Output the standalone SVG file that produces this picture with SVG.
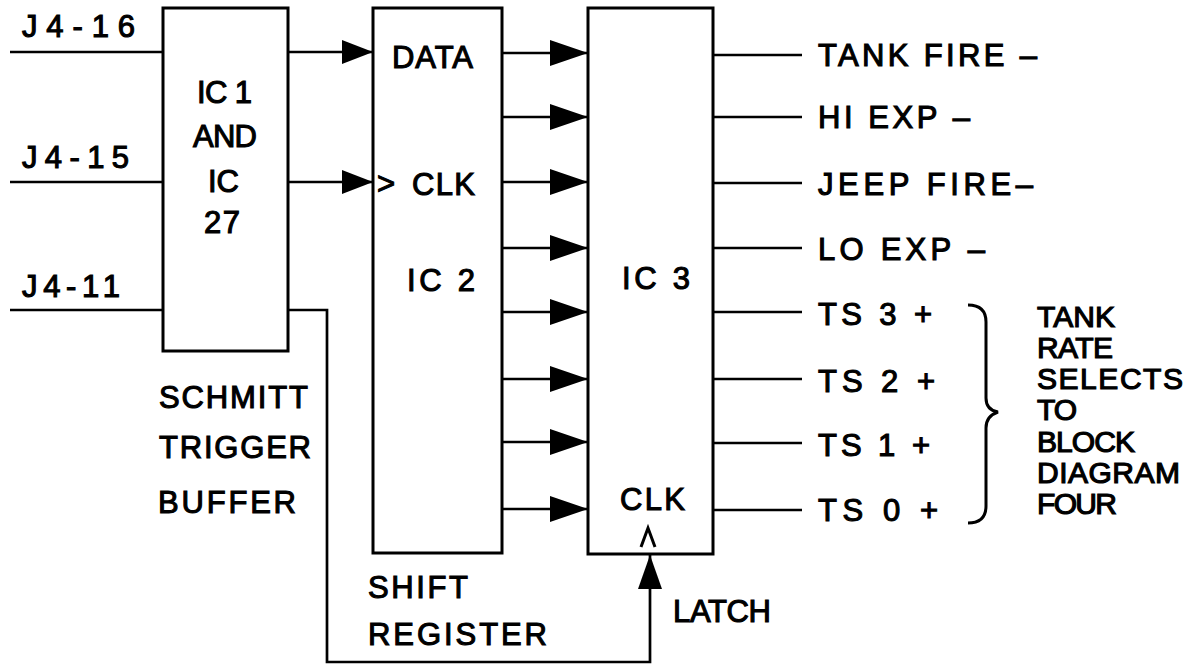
<svg xmlns="http://www.w3.org/2000/svg" width="1199" height="666" viewBox="0 0 1199 666">
<style>
.t{font-family:"Liberation Sans",Arial,sans-serif;font-size:31px;fill:#000;stroke:#000;stroke-width:1.1}
.r{font-family:"Liberation Sans",Arial,sans-serif;font-size:30px;fill:#000;stroke:#000;stroke-width:1.2}
.box{fill:none;stroke:#000;stroke-width:3}
.w{fill:none;stroke:#000;stroke-width:2.7}
</style>
<defs>
<marker id="arr" markerUnits="userSpaceOnUse" markerWidth="38" markerHeight="26" viewBox="0 0 38 26" refX="38" refY="13" orient="auto">
<path d="M0,0 L38,13 L0,26 Z" fill="#000"/>
</marker>
<marker id="arr2" markerUnits="userSpaceOnUse" markerWidth="31" markerHeight="24" viewBox="0 0 31 24" refX="31" refY="12" orient="auto">
<path d="M0,0 L31,12 L0,24 Z" fill="#000"/>
</marker>
<marker id="arr3" markerUnits="userSpaceOnUse" markerWidth="34" markerHeight="24" viewBox="0 0 34 24" refX="34" refY="12" orient="auto">
<path d="M0,0 L34,12 L0,24 Z" fill="#000"/>
</marker>
</defs>
<rect width="1199" height="666" fill="#fff"/>

<g id="inputs">
<text class="t" x="22" y="37" textLength="113" lengthAdjust="spacing">J4-16</text>
<text class="t" x="22" y="168" textLength="107" lengthAdjust="spacing">J4-15</text>
<text class="t" x="22" y="297" textLength="98" lengthAdjust="spacing">J4-11</text>
</g>

<g id="ic1">
<rect class="box" x="163" y="8" width="125" height="343"/>
<text class="t" x="197" y="103" textLength="55" lengthAdjust="spacing">IC 1</text>
<text class="t" x="193" y="147" textLength="64" lengthAdjust="spacing">AND</text>
<text class="t" x="208" y="192" textLength="31" lengthAdjust="spacing">IC</text>
<text class="t" x="204" y="233" textLength="36" lengthAdjust="spacing">27</text>
<text class="t" x="159" y="408" textLength="149" lengthAdjust="spacing">SCHMITT</text>
<text class="t" x="159" y="458" textLength="152" lengthAdjust="spacing">TRIGGER</text>
<text class="t" x="158" y="513" textLength="138" lengthAdjust="spacing">BUFFER</text>
</g>

<g id="ic2">
<rect class="box" x="373" y="8" width="129" height="545"/>
<text class="t" x="392" y="68" textLength="81" lengthAdjust="spacing">DATA</text>
<text class="t" x="377" y="194">&gt;</text>
<text class="t" x="412" y="195" textLength="63" lengthAdjust="spacing">CLK</text>
<text class="t" x="407" y="291" textLength="68" lengthAdjust="spacing">IC 2</text>
<text class="t" x="368" y="598" textLength="100" lengthAdjust="spacing">SHIFT</text>
<text class="t" x="368" y="645" textLength="179" lengthAdjust="spacing">REGISTER</text>
</g>

<g id="ic3">
<rect class="box" x="588" y="8" width="125" height="546"/>
<text class="t" x="622" y="289" textLength="68" lengthAdjust="spacing">IC 3</text>
<text class="t" x="620" y="510" textLength="65" lengthAdjust="spacing">CLK</text>
<polyline points="641,547 648,528 655,547" fill="none" stroke="#000" stroke-width="3"/>
<text class="t" x="673" y="622" textLength="98" lengthAdjust="spacing">LATCH</text>
</g>

<g id="outputs">
<text class="t" x="818" y="66" textLength="219" lengthAdjust="spacing">TANK FIRE –</text>
<text class="t" x="818" y="128" textLength="152" lengthAdjust="spacing">HI EXP –</text>
<text class="t" x="818" y="195" textLength="215" lengthAdjust="spacing">JEEP FIRE–</text>
<text class="t" x="818" y="260" textLength="167" lengthAdjust="spacing">LO EXP –</text>
<text class="t" x="818" y="325" textLength="114" lengthAdjust="spacing">TS 3 +</text>
<text class="t" x="818" y="392" textLength="117" lengthAdjust="spacing">TS 2 +</text>
<text class="t" x="818" y="456" textLength="112" lengthAdjust="spacing">TS 1 +</text>
<text class="t" x="818" y="521" textLength="120" lengthAdjust="spacing">TS 0 +</text>
</g>

<g id="note">
<path class="w" d="M968,305 Q986,305 986,322 V398 Q986,410 998,412 Q986,416 986,428 V506 Q986,523 968,523" style="stroke-width:3"/>
<text class="r" x="1037" y="327" textLength="78" lengthAdjust="spacing">TANK</text>
<text class="r" x="1037" y="358" textLength="76" lengthAdjust="spacing">RATE</text>
<text class="r" x="1037" y="389" textLength="146" lengthAdjust="spacing">SELECTS</text>
<text class="r" x="1037" y="420" textLength="40" lengthAdjust="spacing">TO</text>
<text class="r" x="1037" y="452" textLength="98" lengthAdjust="spacing">BLOCK</text>
<text class="r" x="1037" y="483" textLength="143" lengthAdjust="spacing">DIAGRAM</text>
<text class="r" x="1037" y="514" textLength="80" lengthAdjust="spacing">FOUR</text>
</g>

<g id="connectors">
<line class="w" x1="10" y1="52" x2="163" y2="52"/>
<line class="w" x1="10" y1="182" x2="163" y2="182"/>
<line class="w" x1="10" y1="310" x2="163" y2="310"/>
<line class="w" x1="288" y1="52" x2="373" y2="52" marker-end="url(#arr2)"/>
<line class="w" x1="288" y1="182" x2="373" y2="182" marker-end="url(#arr2)"/>
<line class="w" x1="502" y1="53" x2="588" y2="53" marker-end="url(#arr)"/>
<line class="w" x1="502" y1="117" x2="588" y2="117" marker-end="url(#arr)"/>
<line class="w" x1="502" y1="182" x2="588" y2="182" marker-end="url(#arr)"/>
<line class="w" x1="502" y1="248" x2="588" y2="248" marker-end="url(#arr)"/>
<line class="w" x1="502" y1="312" x2="588" y2="312" marker-end="url(#arr)"/>
<line class="w" x1="502" y1="379" x2="588" y2="379" marker-end="url(#arr)"/>
<line class="w" x1="502" y1="442" x2="588" y2="442" marker-end="url(#arr)"/>
<line class="w" x1="502" y1="509" x2="588" y2="509" marker-end="url(#arr)"/>
<path class="w" d="M288,310 H327 V662 H650 V555" marker-end="url(#arr3)"/>
<line class="w" x1="713" y1="55" x2="802" y2="55"/>
<line class="w" x1="713" y1="117" x2="802" y2="117"/>
<line class="w" x1="713" y1="183" x2="802" y2="183"/>
<line class="w" x1="713" y1="248" x2="802" y2="248"/>
<line class="w" x1="713" y1="312" x2="802" y2="312"/>
<line class="w" x1="713" y1="379" x2="802" y2="379"/>
<line class="w" x1="713" y1="443" x2="802" y2="443"/>
<line class="w" x1="713" y1="510" x2="802" y2="510"/>
</g>
</svg>
